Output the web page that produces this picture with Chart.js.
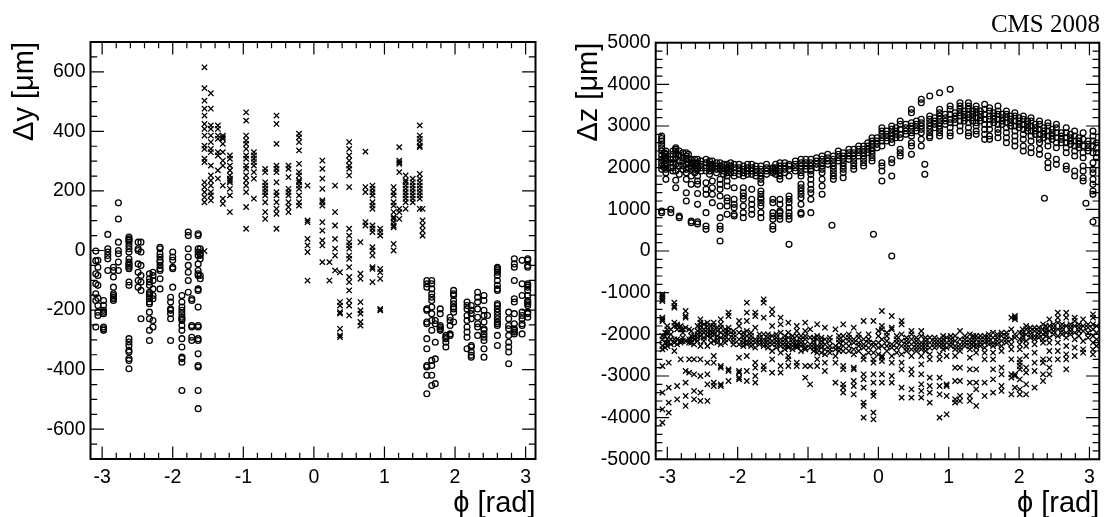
<!DOCTYPE html>
<html><head><meta charset="utf-8">
<script src="https://cdn.jsdelivr.net/npm/chart.js@4/dist/chart.umd.min.js"></script>
<style>
html,body{margin:0;padding:0;background:#fff;}
#wrap{position:relative;width:1105px;height:517px;overflow:hidden;background:#fff;}
canvas{position:absolute;top:0;}
#c1{left:0}
#c2{left:552px}
#cms{position:absolute;right:5px;top:11px;font-family:'Liberation Serif',serif;font-size:25px;line-height:1;color:#000;}
</style></head><body>
<div id="wrap"><canvas id="c1" width="552" height="517"></canvas><canvas id="c2" width="553" height="517"></canvas><div id="cms">CMS 2008</div></div>
<script>
// ---- tick labels ----
const phiTicks = [-3,-2,-1,0,1,2,3];
const dyTicks = [-600,-400,-200,0,200,400,600];
const dzTicks = [-5000,-4000,-3000,-2000,-1000,0,1000,2000,3000,4000,5000];

// ---- left panel: Δy vs φ ; each row = [phi, y1, y2, ...] ----
const dyCircles = [
 [-3.09,-2,-34,-78,-112,-145,-168,-257],
 [-3.06,-33,-56,-84,-117,-160,-185,-207,-218],
 [-2.98,-168,-184,-201,-207,-212,-257,-263,-268],
 [-2.92,54,6,-5,-17,-28,-67],
 [-2.84,-56,-67,-89,-123,-145,-151,-157,-162,-168],
 [-2.77,160,106,28,0,-11,-39,-67],
 [-2.62,45,39,34,28,17,6,-5,-28,-39,-45,-50,-56,-61,-106,-117,-296,-307,-319,-335,-341,-363,-369,-397],
 [-2.49,28,6,0,-45,-73,-101,-123],
 [-2.45,28,-5,-50,-84,-106,-134,-229],
 [-2.33,-78,-95,-106,-117,-140,-145,-151,-162,-173,-179,-207,-229,-268,-302],
 [-2.28,-73,-84,-101,-129,-151,-162,-235,-257],
 [-2.18,11,6,-11,-22,-33,-39,-50,-61,-67,-95,-129],
 [-2.03,-157,-173,-196,-201,-212,-229,-302],
 [-2.00,-5,-22,-33,-56,-61,-123],
 [-1.87,-151,-173,-190,-201,-212,-224,-229,-235,-252,-268,-296,-324,-358,-363,-375,-470],
 [-1.78,62,50,6,-22,-50,-73,-101,-140],
 [-1.73,-162,-168,-252,-257,-291,-302],
 [-1.64,56,50,6,-5,-17,-45,-67,-78,-84,-129,-134,-190,-252,-257,-296,-302,-347,-386,-391,-470,-531],
 [-1.61,6,-11,-17,-28,-84,-95],
 [1.60,-101,-112,-123,-196,-201,-240,-246,-296,-330,-386,-391,-419,-481],
 [1.67,-101,-112,-129,-145,-157,-168,-190,-212,-235,-268,-369,-386,-419,-453],
 [1.72,-235,-246,-308,-364,-447],
 [1.79,-196,-212,-252,-257,-263,-268],
 [1.87,-285,-291,-296,-308,-324],
 [1.93,-224,-235,-252,-280,-285],
 [1.98,-134,-145,-151,-168,-179,-190,-196,-207,-240],
 [2.17,-173,-185,-196,-218,-235,-257,-274,-291,-330],
 [2.23,-185,-201,-212,-229,-319,-324,-341,-352,-358],
 [2.32,-140,-157,-173,-196,-224,-246,-257,-285],
 [2.41,-151,-168,-201,-218,-240,-263,-268,-280,-291,-302,-330,-358],
 [2.46,-218],
 [2.60,-61,-73,-84,-56,-67,-101,-117,-129,-134,-179,-185,-196,-207,-218,-229,-240,-246,-252,-285,-319],
 [2.76,-207,-229,-252,-263,-285,-308,-324,-341,-380],
 [2.84,-45,-56,-28,-101,-162,-173,-212,-246,-263,-268,-274,-280],
 [2.95,-33,-112,-151,-207,-218,-229,-246,-252,-280],
 [3.03,-28,-33,-50,-56,-112,-117,-123,-134,-151,-168,-173,-179,-185,-207,-212,-224]
];
const dyCrosses = [
 [-1.55,615,545,503,476,453,425,408,386,352,341,308,297,229,213,196,179,162,-2],
 [-1.46,528,476,420,408,386,364,341,330,285,252,235,218,196,185,168],
 [-1.36,420,408,386,375,330,319,269,241],
 [-1.29,386,380,375,358,330,302,285,218,174,157],
 [-1.19,319,308,285,269,252,241,235,229,207,185,129],
 [-0.96,464,436,386,369,358,341,319,308,285,274,252,235,218,196,146,73],
 [-0.85,330,319,308,297,285,263,241,174],
 [-0.69,274,263,229,218,207,196,185,162,129,106],
 [-0.53,453,425,358,285,274,263,229,196,185,162,140,123,73],
 [-0.36,285,274,246,207,196,185,162,146,129],
 [-0.21,392,380,364,336,291,263,252,235,229,218,207,185,162,151],
 [-0.09,218,101,95,39,17,-5,-101],
 [0.12,302,274,241,207,168,162,151,95,67,34,17,-39],
 [0.22,-39,-101],
 [0.30,218,129,84,39,6,-17,-67],
 [0.37,-73,-173,-185,-207,-212,-263,-285,-291],
 [0.50,364,341,319,302,285,274,252,213,73,50,28,17,6,-17,-28,-56,-89,-106,-134,-168,-185,-218],
 [0.66,28,-78,-95,-173,-201,-212,-240,-252],
 [0.73,332,213,196,95,84],
 [0.83,218,207,196,185,162,151,140,84,73,62,11,0,-17,-56,-62,-106],
 [0.94,73,62,50,-62,-73,-95,-196,-201],
 [1.13,213,196,185,162,151,129,112,106,95,84,78,22,0],
 [1.21,347,302,296,291,263,140,129,106],
 [1.30,252,235,229,218,207,196,185,174,162,140],
 [1.40,241,229,218,207,196,185,174,162],
 [1.50,420,386,375,364,352,347,257,241,229,218,207,196,185,174,140],
 [1.54,140,101,84,67,50]
];

// ---- right panel: Δz vs φ ----
const dzCircles = [
 [-3.08,2760,2700,2640,2560,2480,2400,2300,2200,2120,2040,1960,960,920],
 [-3.02,2400,2320,2240,2120,2040,1960,1880,1720],
 [-2.95,2200,2120,2000,920,1000],
 [-2.88,2480,2440,2400,2320,2240,2080,1920,1700,1520],
 [-2.83,2400,2300,2160,2040,1840,840,800],
 [-2.73,2360,2280,2200,2080,1960,1880,1720,1400,1200],
 [-2.66,2200,2120,2040,1960,1800,1600,720,680],
 [-2.57,2200,2120,2040,1960,1800,1680,1600,1380,1120,700,650],
 [-2.45,2200,2120,2000,1920,1640,1480,1360,920,600,520],
 [-2.36,2160,2080,2000,1680,1520,1360,1160],
 [-2.25,2120,2040,1960,1720,1600,1480,1320,1080,800,600,520,240],
 [-2.15,2080,2000,1960,1880,1800,1680,1560,1280,1200,1080,880],
 [-2.05,2080,2000,1880,1800,1520,1240,1120,1040,880,840],
 [-1.92,2040,1960,1880,1800,1520,1400,1320,1240,1080,920,800],
 [-1.80,2080,2000,1920,1840,1480,1240,1120,1000,880],
 [-1.67,2040,1960,1880,1800,1720,1640,1440,1360,1280,1240,1160,1080,920,800],
 [-1.50,2000,1960,1920,1880,1240,1160,920,840,760,600,520],
 [-1.40,2120,2040,1960,1880,1800,1720,1240,1120,960,920,840,760],
 [-1.27,2080,2040,1960,1800,1320,1240,1160,1040,920,840,760,160],
 [-1.10,2200,2120,2040,1960,1880,1800,1600,1520,1440,1360,1280,1120,920,880],
 [-0.96,2200,2120,2040,1960,1920,1840,1720,1600,1480,1400,1240,920],
 [-0.80,2280,2200,2120,2040,1960,1880,1720,1560,1360],
 [-0.66,617],
 [-0.64,2280,2200,2120,2040,1960,1880,1800,1720],
 [-0.50,2360,2280,2200,2120,2040,1960,1880,1760],
 [-0.35,2440,2360,2280,2200,2120,2040,1960],
 [-0.21,2520,2440,2360,2280,2200,2120,2040],
 [-0.09,2720,2640,2560,2480,2400,2320,2240,2160],
 [-0.07,401],
 [0.05,2960,2880,2800,2720,2640,2520,2120,2040,1920,1680],
 [0.19,3000,2920,2840,2760,2680,2600,2200,2120,1800,-120],
 [0.31,3120,3040,2920,2800,2720,2440,2360,2280],
 [0.47,3400,3320,3080,3000,2920,2840,2760,2600,2520,2320],
 [0.61,3640,3560,3160,3080,3000,2920,2840,2680,2520],
 [0.66,2080,1840],
 [0.73,3720,3240,3160,3080,3000,2920,2840,2760,2720],
 [0.87,3800,3400,3320,3240,3160,3080,3000,2920,2840,2760],
 [1.02,3880,3480,3400,3280,3160,3080,2960,2840,2760],
 [1.16,3560,3480,3400,3320,3240,3120,3000,2880],
 [1.28,3560,3480,3400,3280,3200,3080,2960,2840,2760],
 [1.39,3480,3400,3320,3200,3080,3000,2880,2800],
 [1.51,3520,3400,3280,3160,3040,2920,2800,2680],
 [1.58,3440,3360,3240,3160,3040,2920,2760,2680],
 [1.70,3480,3360,3280,3160,3040,2920,2840,2720],
 [1.82,3360,3280,3200,3080,2960,2840,2720,2600],
 [1.94,3320,3240,3120,3000,2880,2760,2640,2520],
 [2.06,3240,3160,3040,2920,2800,2680,2520,2400],
 [2.17,3200,3120,3000,2880,2760,2640,2480,2360],
 [2.29,3120,3040,2920,2800,2680,2600,2440,2320],
 [2.36,1266],
 [2.41,3080,3000,2880,2760,2640,2520,2280,2120,2000],
 [2.53,3040,2960,2840,2720,2600,2480,2200,2080],
 [2.67,2960,2840,2720,2600,2480,2360,2040,1960],
 [2.79,2880,2760,2640,2520,2400,2280,1920,1800],
 [2.91,2840,2680,2520,2360,2240,2040,1920,1760,1680],
 [2.95,1146],
 [3.05,2880,2760,2640,2520,2360,2120,1960,1880,1720,1600,1440,1360,700]
];
const dzCirclesBand = [
 [-3.04,2360,2280,2200,2080,2000],[-2.92,2400,2320,2200,2120,2000,1920],
 [-2.78,2360,2240,2160,2040,1960],[-2.70,2320,2200,2120,2000],
 [-2.61,2200,2120,2040,1960,1880],[-2.52,2160,2080,2000,1920],
 [-2.40,2160,2080,2000,1920,1840],[-2.30,2120,2040,1960,1880],
 [-2.20,2080,2000,1920,1840],[-2.10,2120,2040,1960,1880],
 [-1.98,2080,2000,1920,1840],[-1.86,2080,2000,1920,1840],
 [-1.74,2040,1960,1880,1800],[-1.59,2080,2000,1920,1840],
 [-1.46,2080,2000,1920,1840],[-1.33,2120,2040,1960,1880],
 [-1.18,2160,2080,2000,1920],[-1.03,2200,2120,2040,1960],
 [-0.88,2240,2160,2080,2000],[-0.72,2320,2240,2160,2080],
 [-0.57,2400,2320,2240,2160],[-0.42,2440,2360,2280,2200],
 [-0.28,2520,2440,2360,2280],[-0.15,2600,2520,2440,2360],
 [-0.02,2720,2640,2560,2480],[0.12,2880,2800,2720,2640],
 [0.25,2960,2880,2800,2720],[0.39,3040,2960,2880,2800],
 [0.54,3120,3040,2960,2880],[0.80,3200,3120,3040,2960],
 [0.95,3280,3200,3120,3040],[1.09,3320,3240,3160,3080],
 [1.22,3360,3280,3200,3120],[1.34,3360,3280,3200,3120],
 [1.45,3360,3280,3200,3120],[1.64,3320,3240,3160,3080],
 [1.76,3280,3200,3120,3040],[1.88,3240,3160,3080,3000],
 [2.00,3200,3120,3040,2960],[2.12,3120,3040,2960,2880],
 [2.23,3040,2960,2880,2800],[2.35,2960,2880,2800,2720],
 [2.47,2920,2840,2760,2680],[2.60,2840,2760,2680,2600],
 [2.73,2800,2720,2640,2560],[2.85,2720,2640,2560,2480],
 [2.98,2640,2560,2480,2400],[3.10,2600,2480,2360,2240]
];
const dzCrosses = [
 [-3.07,-1040,-1080,-1120,-1160,-1200,-1600,-1640,-1680,-2040,-2120,-2280,-2360,-2760,-3400,-3800,-4120],
 [-3.00,-1800,-1880,-1960,-2120,-2200,-2280],
 [-2.98,-2680,-3280,-3640,-3880],
 [-2.90,-1240,-1320,-1360,-1720,-1800,-2120,-2200,-2400],
 [-2.86,-1760,-1800,-1880,-2120,-2240,-3240,-3560],
 [-2.81,-1800,-1880,-2160,-2200,-2600],
 [-2.74,-1440,-1560,-1600,-1840,-2160,-2880,-3160,-3480,-3720],
 [-2.69,-1880,-2120,-2200,-2600,-2920],
 [-2.62,-2040,-2120,-2240,-2600,-2960,-3360,-3560],
 [-2.53,-1640,-1720,-1800,-1880,-1960,-2040,-2280,-2600,-3000,-3400,-3600],
 [-2.43,-1720,-1800,-1880,-1960,-2040,-2280,-2680,-2960,-3200,-3600],
 [-2.34,-1720,-1800,-1920,-2000,-2160,-2520,-2680,-3160,-3240],
 [-2.24,-1640,-1760,-1840,-1960,-2080,-2240,-2760,-2800,-3200,-3240],
 [-2.13,-1480,-1560,-1840,-1920,-2000,-2120,-2840,-2880,-3120],
 [-1.98,-1680,-1800,-1960,-2120,-2240,-2560,-2880,-2920,-3040,-3080],
 [-1.87,-1240,-1480,-1680,-1920,-2040,-2160,-2240,-2520,-2880,-3120],
 [-1.75,-1480,-1560,-1840,-2120,-2200,-2320,-2680,-2800,-3000,-3160],
 [-1.63,-1160,-1240,-1600,-2000,-2120,-2200,-2280,-2760,-2840],
 [-1.51,-1400,-1520,-1800,-2040,-2160,-2240,-2400,-2600,-2920],
 [-1.39,-1600,-1760,-1960,-2120,-2200,-2280,-2440,-2760,-2920],
 [-1.28,-1720,-1960,-2080,-2200,-2280,-2320,-2520,-2600,-2760],
 [-1.16,-1800,-1920,-2040,-2160,-2240,-2280,-2320,-2680,-2760],
 [-1.04,-1720,-1920,-2040,-2120,-2240,-2320,-2360,-2760,-3040],
 [-0.97,-1880,-2080,-2240,-2320,-2760,-3200],
 [-0.87,-1760,-2040,-2120,-2280,-2360,-2440,-2600,-2760],
 [-0.76,-1840,-2120,-2240,-2360,-2480,-2680,-2880],
 [-0.61,-1880,-2280,-2360,-2520,-2680,-3160],
 [-0.50,-1760,-2040,-2160,-2280,-2400,-2760,-2840,-3200,-3280,-3400],
 [-0.35,-1840,-2120,-2200,-2360,-2480,-2800,-2840,-3120,-3240,-3440],
 [-0.21,-1680,-2120,-2240,-2320,-2520,-2600,-2960,-3080,-3280,-3640,-3720,-4000],
 [-0.07,-1680,-2200,-2280,-2440,-2600,-2680,-2960,-3160,-3400,-3480,-3880,-4040],
 [0.05,-1440,-1800,-1880,-2120,-2280,-2520,-2560,-2640,-2960,-3160],
 [0.19,-1560,-1840,-1880,-2240,-2320,-2520,-2680,-3000,-3160],
 [0.33,-1680,-1760,-2000,-2160,-2280,-2480,-2680,-2840,-3280,-3520],
 [0.47,-1920,-2000,-2120,-2240,-2360,-2520,-2840,-2960,-3320,-3520],
 [0.61,-1920,-2040,-2200,-2280,-2360,-2520,-2720,-2960,-3200,-3360,-3520],
 [0.73,-2080,-2200,-2320,-2480,-2600,-3040,-3240,-3400,-3640],
 [0.87,-2120,-2200,-2280,-2480,-2600,-3040,-3240,-3440,-4000],
 [0.97,-2080,-2200,-2320,-2520,-3200,-3240,-3480,-3920],
 [1.09,-2040,-2160,-2280,-2360,-2520,-2800,-3120,-3560,-3640],
 [1.16,-1920,-2120,-2240,-2320,-2400,-2800,-3120,-3480,-3600],
 [1.30,-2000,-2120,-2200,-2280,-2360,-2560,-2840,-3160,-3480,-3600],
 [1.39,-2040,-2120,-2240,-2320,-2440,-2840,-3160,-3320,-3720],
 [1.51,-2040,-2120,-2200,-2320,-2440,-2600,-3160,-3480],
 [1.63,-1960,-2080,-2200,-2280,-2440,-2600,-2840,-3080,-3400],
 [1.75,-1960,-2040,-2160,-2280,-2400,-2800,-2960,-3240,-3360],
 [1.89,-1600,-1880,-2120,-2240,-2360,-2600,-2960,-3040,-3440],
 [1.94,-1560,-1600,-1640,-2000,-2080,-2960,-3000,-3280],
 [2.01,-1960,-2120,-2240,-2360,-2600,-2680,-2760,-2840,-3080,-3320,-3440],
 [2.10,-1800,-1880,-2000,-2160,-2280,-2520,-2800,-2920,-3200,-3440],
 [2.22,-1840,-1920,-2040,-2120,-2240,-2440,-2680,-2880,-3280],
 [2.34,-1760,-1880,-2000,-2120,-2200,-2600,-2680,-2960,-3120],
 [2.43,-1640,-1800,-1920,-2080,-2200,-2400,-2600,-2800,-2960],
 [2.55,-1480,-1600,-1720,-1880,-2040,-2200,-2400,-2600],
 [2.67,-1480,-1600,-1800,-1960,-2080,-2280,-2480,-2600,-2840],
 [2.79,-1600,-1680,-1800,-1960,-2120,-2320,-2520],
 [2.91,-1640,-1800,-1920,-2160,-2360,-2440],
 [3.05,-1520,-1600,-1760,-1880,-2040,-2200,-2360,-2480],
 [3.10,-1800,-1960,-2120,-2280]
];
const dzCrossesBand = [
 [-3.03,-1960,-2040,-2200,-2320],[-2.95,-1880,-2000,-2120,-2240],
 [-2.78,-1880,-1960,-2080,-2160],[-2.66,-1920,-2040,-2120,-2200],
 [-2.57,-1800,-1920,-2000,-2080,-2160],[-2.48,-1760,-1880,-1960,-2080,-2160],
 [-2.38,-1800,-1920,-2000,-2080,-2200],[-2.29,-1840,-1920,-2040,-2120,-2200],
 [-2.18,-1880,-1960,-2040,-2120,-2200],[-2.06,-1920,-2000,-2080,-2160,-2240],
 [-1.92,-1960,-2040,-2120,-2200,-2280],[-1.81,-1960,-2040,-2120,-2200,-2280],
 [-1.69,-2000,-2080,-2160,-2240],[-1.57,-2000,-2080,-2160,-2240,-2320],
 [-1.45,-2000,-2080,-2160,-2240,-2320],[-1.33,-2040,-2120,-2200,-2280,-2360],
 [-1.22,-2040,-2120,-2200,-2280,-2360],[-1.10,-2040,-2120,-2200,-2280,-2400],
 [-0.92,-2080,-2160,-2240,-2320,-2400],[-0.81,-2080,-2160,-2240,-2320,-2440],
 [-0.69,-2080,-2160,-2280,-2360,-2440],[-0.56,-2040,-2120,-2200,-2320,-2400],
 [-0.42,-2000,-2080,-2160,-2280,-2400],[-0.28,-2000,-2080,-2200,-2280,-2400],
 [-0.14,-2000,-2120,-2200,-2320,-2440],[0.00,-1920,-2040,-2200,-2320,-2480],
 [0.12,-1960,-2040,-2160,-2280,-2400],[0.26,-2040,-2120,-2200,-2320,-2440],
 [0.40,-2080,-2160,-2240,-2320,-2400],[0.54,-2080,-2160,-2240,-2320,-2400],
 [0.67,-2080,-2160,-2240,-2320,-2400],[0.80,-2080,-2160,-2240,-2320],
 [0.92,-2040,-2120,-2200,-2280,-2360],[1.03,-2040,-2120,-2200,-2280],
 [1.23,-2040,-2120,-2200,-2280],[1.35,-2040,-2120,-2200,-2280],
 [1.45,-2040,-2120,-2200,-2280],[1.57,-2000,-2080,-2160,-2240],
 [1.69,-2000,-2080,-2160,-2240],[1.82,-1960,-2040,-2120,-2200],
 [2.05,-1880,-1960,-2040,-2120],[2.16,-1840,-1920,-2000,-2080],
 [2.28,-1840,-1920,-2000,-2080],[2.38,-1800,-1880,-1960,-2040],
 [2.49,-1760,-1840,-1920,-2000],[2.61,-1760,-1840,-1920,-2000],
 [2.73,-1760,-1840,-1920,-2000],[2.85,-1760,-1840,-1920,-2040],
 [2.98,-1760,-1840,-1960,-2080]
];

// ---- helpers ----
function expand(){ const out=[]; for(const cols of arguments){ for(const c of cols){ for(let i=1;i<c.length;i++) out.push({x:c[0],y:c[i]}); } } return out; }

const frameTicks = {
  id:'frameTicks',
  afterDraw(chart, args, o){
    const {ctx, chartArea:a} = chart; const sx=chart.scales.x, sy=chart.scales.y;
    ctx.save(); ctx.strokeStyle='#000'; ctx.lineWidth=1.2; ctx.beginPath();
    for(let i=-40;i<=40;i++){
      const v=i*o.xMinorStep; if(v<sx.min||v>sx.max) continue;
      const isMaj=Math.abs(v/o.xMajorStep-Math.round(v/o.xMajorStep))<1e-6;
      const L=isMaj?o.xLen:o.xLen/2; const p=sx.getPixelForValue(v);
      ctx.moveTo(p,a.bottom); ctx.lineTo(p,a.bottom-L);
      ctx.moveTo(p,a.top); ctx.lineTo(p,a.top+L);
    }
    for(let i=-40;i<=40;i++){
      const v=i*o.yMinorStep; if(v<sy.min||v>sy.max) continue;
      const isMaj=Math.abs(v/o.yMajorStep-Math.round(v/o.yMajorStep))<1e-6;
      const L=isMaj?o.yLen:o.yLen/2; const p=sy.getPixelForValue(v);
      ctx.moveTo(a.left,p); ctx.lineTo(a.left+L,p);
      ctx.moveTo(a.right,p); ctx.lineTo(a.right-L,p);
    }
    ctx.stroke();
    ctx.lineWidth=2; ctx.strokeRect(a.left,a.top,a.right-a.left,a.bottom-a.top);
    ctx.restore();
  }
};

function makeChart(id, cfg){
  return new Chart(document.getElementById(id), {
    type:'scatter',
    data:{datasets:[
      {data:cfg.circles, pointStyle:'circle', pointRadius:2.9, borderWidth:1.3, borderColor:'#000', backgroundColor:'rgba(0,0,0,0)'},
      {data:cfg.crosses, pointStyle:'crossRot', pointRadius:3.8, borderWidth:1.3, borderColor:'#000', backgroundColor:'rgba(0,0,0,0)'}
    ]},
    options:{
      responsive:false, animation:false, events:[],
      layout:{padding:{top:cfg.top, right:cfg.right, left:0, bottom:0}},
      plugins:{legend:{display:false}, tooltip:{enabled:false},
        frameTicks:{xMinorStep:0.2, xMajorStep:1, xLen:12.5, yMinorStep:cfg.yMinor, yMajorStep:cfg.yMajor, yLen:13.4}},
      scales:{
        x:{type:'linear', min:-3.165, max:3.14,
          grid:{display:false, drawTicks:false}, border:{display:false},
          afterBuildTicks:s=>{s.ticks=phiTicks.map(v=>({value:v}));},
          afterFit:s=>{s.height=cfg.xh;},
          ticks:{autoSkip:false, maxRotation:0, padding:7, color:'#000', font:{family:'Liberation Sans', size:19.5}, callback:v=>String(v)},
          title:{display:true, text:'ϕ [rad]', align:'end', color:'#000', font:{family:'Liberation Sans', size:29, lineHeight:1}, padding:{top:0,bottom:-1}}
        },
        y:{type:'linear', min:cfg.ymin, max:cfg.ymax,
          grid:{display:false, drawTicks:false}, border:{display:false},
          afterBuildTicks:s=>{s.ticks=cfg.yTicks.map(v=>({value:v}));},
          afterFit:s=>{s.width=cfg.yw;},
          ticks:{autoSkip:false, padding:5, color:'#000', font:{family:'Liberation Sans', size:19.5}, callback:v=>String(v)},
          title:{display:true, text:cfg.ytitle, align:'end', color:'#000', font:{family:'Liberation Sans', size:29, lineHeight:1}, padding:{top:cfg.ytp,bottom:0}}
        }
      }
    },
    plugins:[frameTicks]
  });
}

makeChart('c1', {circles:expand(dyCircles), crosses:expand(dyCrosses), top:42, right:552-535.5, xh:517-459, yw:90.5,
  ymin:-700, ymax:700, yTicks:dyTicks, yMinor:50, yMajor:200, ytitle:'Δy [μm]', ytp:10.5});
makeChart('c2', {circles:expand(dzCircles, dzCirclesBand), crosses:expand(dzCrosses, dzCrossesBand), top:42.7, right:553-547.3, xh:517-459.3, yw:103.7,
  ymin:-5000, ymax:5000, yTicks:dzTicks, yMinor:200, yMajor:1000, ytitle:'Δz [μm]', ytp:22});
</script>
</body></html>
